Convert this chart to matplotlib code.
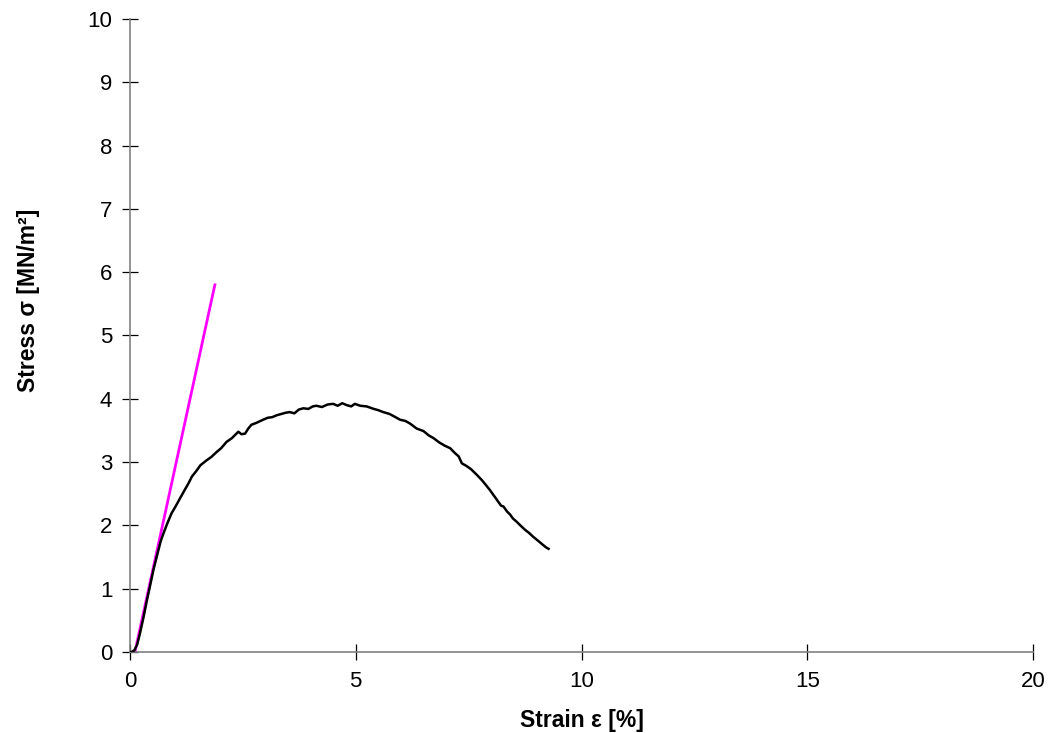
import numpy as np
import matplotlib.pyplot as plt

plt.rcParams['font.family'] = ['Liberation Sans', 'DejaVu Sans']

strain = [0.0, 0.04, 0.10, 0.16, 0.22, 0.30, 0.37, 0.44, 0.52, 0.58, 0.63, 0.68, 0.74,
          0.82, 0.92, 1.01, 1.11, 1.22, 1.30, 1.37, 1.47, 1.56, 1.70, 1.80, 1.92,
          2.02, 2.14, 2.26, 2.40, 2.47, 2.55, 2.62, 2.69, 2.80, 2.95, 3.05, 3.15,
          3.25, 3.35, 3.45, 3.54, 3.64, 3.74, 3.84, 3.95, 4.05, 4.13, 4.25, 4.38,
          4.50, 4.60, 4.70, 4.80, 4.90, 4.98, 5.10, 5.24, 5.40, 5.50, 5.61, 5.75,
          5.88, 5.98, 6.10, 6.20, 6.35, 6.50, 6.62, 6.72, 6.85, 6.97, 7.09, 7.20,
          7.28, 7.35, 7.45, 7.55, 7.68, 7.80, 7.88, 7.97, 8.08, 8.18, 8.22, 8.27,
          8.35, 8.42, 8.48, 8.56, 8.66, 8.75, 8.84, 8.93, 9.05, 9.15, 9.22, 9.27]
stress = [0.0, 0.0, 0.03, 0.12, 0.29, 0.55, 0.80, 1.03, 1.30, 1.47, 1.61, 1.75, 1.87,
          2.02, 2.19, 2.30, 2.43, 2.57, 2.67, 2.77, 2.86, 2.95, 3.03, 3.08, 3.16,
          3.22, 3.32, 3.38, 3.48, 3.44, 3.45, 3.53, 3.59, 3.62, 3.67, 3.70, 3.71,
          3.74, 3.76, 3.78, 3.79, 3.77, 3.83, 3.85, 3.84, 3.88, 3.89, 3.87, 3.91,
          3.92, 3.89, 3.93, 3.90, 3.88, 3.92, 3.89, 3.88, 3.84, 3.82, 3.79, 3.76,
          3.71, 3.67, 3.65, 3.61, 3.53, 3.49, 3.42, 3.38, 3.31, 3.26, 3.22, 3.14,
          3.09, 2.98, 2.94, 2.89, 2.80, 2.71, 2.64, 2.56, 2.45, 2.35, 2.31, 2.30,
          2.22, 2.17, 2.11, 2.06, 1.99, 1.93, 1.88, 1.82, 1.75, 1.69, 1.65, 1.63]

# elastic modulus tangent line
tangent_strain = [0.11, 1.88]
tangent_stress = [0.0, 5.80]

fig = plt.figure(figsize=(10.49, 7.33), dpi=100)
ax = fig.add_axes([0.1239, 0.1105, 0.8609, 0.8636])

ax.plot(strain, stress, color='black', lw=1.8, zorder=3)
ax.plot(tangent_strain, tangent_stress, color='#ff00ff', lw=2.0, zorder=2)

ax.set_xlim(0, 20)
ax.set_ylim(0, 10)
ax.set_xticks(np.arange(0, 21, 5))
ax.set_yticks(np.arange(0, 11, 1))

for s in ['top', 'right']:
    ax.spines[s].set_visible(False)
for s in ['left', 'bottom']:
    ax.spines[s].set_color('#808080')
    ax.spines[s].set_linewidth(1.2)

ax.tick_params(direction='inout', length=11.5, width=0.9, color='black',
               labelsize=16)
ax.tick_params(axis='y', pad=7)
ax.tick_params(axis='x', pad=8)

ax.set_xlabel('Strain ε [%]', fontsize=16.5, fontweight='bold', labelpad=12)
ax.set_ylabel('Stress σ [MN/m²]', fontsize=16.5, fontweight='bold')
ax.yaxis.set_label_coords(-0.100, 0.555)

fig.savefig('out.png', dpi=100)
